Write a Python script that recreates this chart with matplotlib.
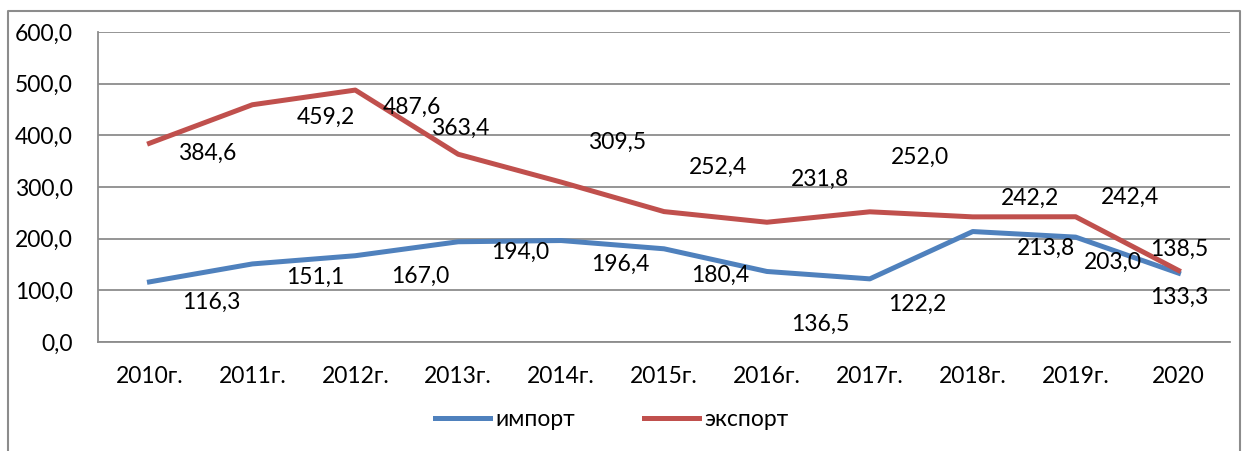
import matplotlib.pyplot as plt
from matplotlib.lines import Line2D

plt.rcParams['font.family'] = ['Lato', 'DejaVu Sans']

# Data
years = ['2010г.', '2011г.', '2012г.', '2013г.', '2014г.', '2015г.',
         '2016г.', '2017г.', '2018г.', '2019г.', '2020']
imports = [116.3, 151.1, 167.0, 194.0, 196.4, 180.4, 136.5, 122.2, 213.8, 203.0, 133.3]
exports = [384.6, 459.2, 487.6, 363.4, 309.5, 252.4, 231.8, 252.0, 242.2, 242.4, 138.5]

# label offsets from the points (pixels, y up), as placed in the original
imp_off = [(62, -20), (63, -13), (65, -21), (62, -11), (59, -24), (56, -27),
           (53, -53), (47, -25), (73, -17), (37, -25), (1, -24)]
exp_off = [(58, -10), (73, -13), (57, -17), (2, 26), (56, 40), (54, 44),
           (53, 43), (50, 54), (57, 19), (54, 19), (1, 21)]

blue = '#4F81BD'
red = '#C0504D'
grid_c = '#8C8C8C'
fs = 16.5

fig = plt.figure(figsize=(12.46, 4.51), dpi=100)
ax = fig.add_axes([98 / 1246, 1 - 342 / 451, 1132 / 1246, 310 / 451])

x = range(len(years))
ax.plot(x, imports, color=blue, lw=3.6, label='импорт', solid_joinstyle='round')
ax.plot(x, exports, color=red, lw=3.6, label='экспорт', solid_joinstyle='round')

def fmt(v):
    return f'{v:.1f}'.replace('.', ',')

for i, v in enumerate(imports):
    ax.annotate(fmt(v), (i, v), xytext=imp_off[i], textcoords='offset pixels',
                ha='center', va='center', fontsize=fs)
for i, v in enumerate(exports):
    ax.annotate(fmt(v), (i, v), xytext=exp_off[i], textcoords='offset pixels',
                ha='center', va='center', fontsize=fs)

ax.set_xlim(-0.5, len(years) - 0.5)
ax.set_ylim(0, 600)
ax.set_yticks(range(0, 601, 100))
ax.set_yticklabels([fmt(v) for v in range(0, 601, 100)])
ax.set_xticks(list(x))
ax.set_xticklabels(years)
ax.tick_params(axis='y', length=0, pad=18, labelsize=fs)
ax.tick_params(axis='x', length=0, pad=17, labelsize=fs)
ax.grid(axis='y', color=grid_c, lw=1.3)
ax.set_axisbelow(True)
for s in ['top', 'right']:
    ax.spines[s].set_visible(False)
for s in ['left', 'bottom']:
    ax.spines[s].set_color(grid_c)
    ax.spines[s].set_linewidth(1.3)

fig.legend(loc='center', bbox_to_anchor=(612 / 1246, 1 - 420 / 451), ncol=2,
           frameon=False, fontsize=fs, handlelength=2.4, columnspacing=3.0,
           handletextpad=0.25)

# outer chart frame (bottom edge is cut off in the original)
fx = [8 / 1246, 8 / 1246, 1240 / 1246, 1240 / 1246]
fy = [0, 1 - 11 / 451, 1 - 11 / 451, 0]
fig.add_artist(Line2D(fx, fy, transform=fig.transFigure, color='#8C8C8C', lw=1.5))

fig.savefig('out.png', dpi=100)
